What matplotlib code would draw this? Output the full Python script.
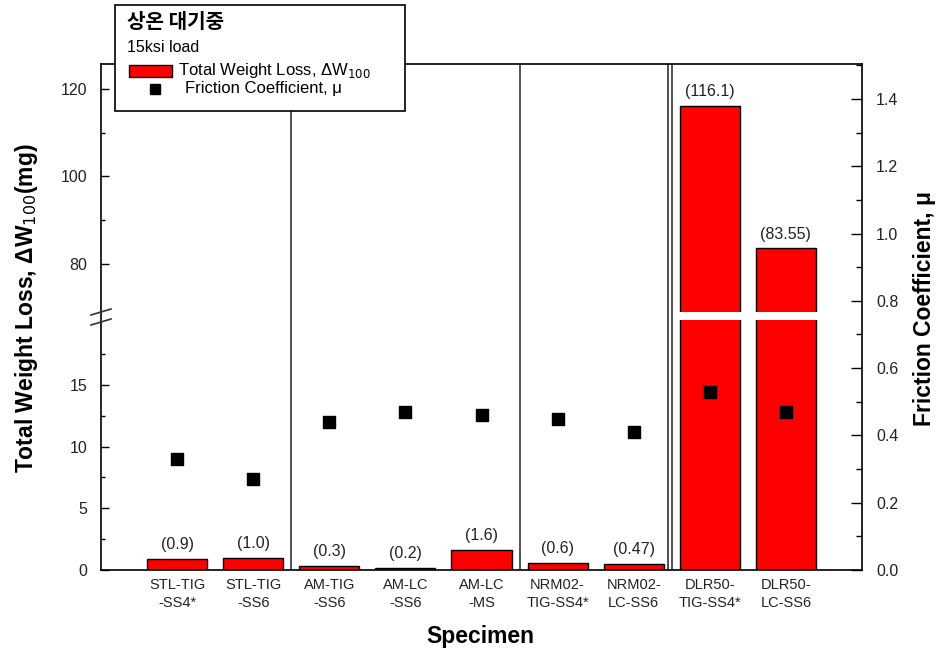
import numpy as np
import matplotlib
matplotlib.use("Agg")
import matplotlib.pyplot as plt
from matplotlib.patches import Rectangle
from matplotlib.lines import Line2D
from matplotlib.ticker import MultipleLocator, FixedLocator

plt.rcParams['font.family'] = ['Liberation Sans', 'DejaVu Sans']

specimens = ["STL-TIG\n-SS4*", "STL-TIG\n-SS6", "AM-TIG\n-SS6", "AM-LC\n-SS6", "AM-LC\n-MS",
             "NRM02-\nTIG-SS4*", "NRM02-\nLC-SS6", "DLR50-\nTIG-SS4*", "DLR50-\nLC-SS6"]
weight_loss = [0.9, 1.0, 0.3, 0.2, 1.6, 0.6, 0.47, 116.1, 83.55]
weight_labels = ["(0.9)", "(1.0)", "(0.3)", "(0.2)", "(1.6)", "(0.6)", "(0.47)", "(116.1)", "(83.55)"]
friction = [0.33, 0.27, 0.44, 0.47, 0.46, 0.45, 0.41, 0.53, 0.47]
group_edges = [2.5, 5.5]

W, H = 939, 655
fig = plt.figure(figsize=(W / 100, H / 100), dpi=100)

def fx(px):
    return px / W

def fy(py):
    return (H - py) / H

x = np.arange(1, len(specimens) + 1)
left, right, top, bottom, brk_lo, brk_hi = 101, 862, 64, 570, 320, 312

# lower and upper parts of the broken weight-loss axis
ax_lo = fig.add_axes([fx(left), fy(bottom), fx(right - left), (bottom - brk_lo) / H])
ax_hi = fig.add_axes([fx(left), fy(brk_hi), fx(right - left), (brk_hi - top) / H])
# full-height axes for the frame and friction coefficient
ax = fig.add_axes([fx(left), fy(bottom), fx(right - left), (bottom - top) / H])

for a in (ax_lo, ax_hi):
    a.bar(x, weight_loss, width=0.79, color='#ff0000', edgecolor='black', linewidth=1.0, zorder=2)
    a.set_xlim(0, 10)
    a.patch.set_visible(False)
    for s in a.spines.values():
        s.set_visible(False)
    a.tick_params(axis='y', direction='in', length=6, width=1, labelsize=11.5, pad=10,
                  labelcolor='#222222')
    a.tick_params(axis='y', which='minor', direction='in', length=3, width=1)
    a.tick_params(axis='x', length=0)
    a.set_xticks([])

ax_lo.set_ylim(0, 20.27)
ax_lo.yaxis.set_major_locator(FixedLocator([0, 5, 10, 15]))
ax_lo.yaxis.set_minor_locator(FixedLocator([2.5, 7.5, 12.5, 17.5]))
ax_hi.set_ylim(69.03, 125.7)
ax_hi.yaxis.set_major_locator(FixedLocator([80, 100, 120]))
ax_hi.yaxis.set_minor_locator(FixedLocator([90, 110]))

# value labels above the bars
for xi, v, lab in zip(x, weight_loss, weight_labels):
    target = ax_lo if v < 20 else ax_hi
    target.annotate(lab, (xi, v), xytext=(0, 5), textcoords='offset points',
                    ha='center', va='bottom', fontsize=11.5, color='#222222')

ax.patch.set_visible(False)
ax.set_xlim(0, 10)
ax.set_ylim(0, 1.504)
ax.scatter(x, friction, marker='s', s=70, color='black', zorder=5)
for xe in group_edges:
    ax.axvline(xe, color='#333333', linewidth=1.2)
ax.axvline(7.455, color='#333333', linewidth=1.2)
ax.axvline(7.5, color='#333333', linewidth=1.2)
for s in ax.spines.values():
    s.set_linewidth(1.2)
ax.yaxis.tick_right()
ax.yaxis.set_major_locator(MultipleLocator(0.2))
ax.yaxis.set_minor_locator(MultipleLocator(0.1))
ax.yaxis.set_major_formatter(matplotlib.ticker.FormatStrFormatter('%.1f'))
ax.tick_params(axis='y', which='major', direction='in', length=8, width=1, labelsize=11.5, pad=10,
               labelcolor='#222222')
ax.tick_params(axis='y', which='minor', direction='in', length=4, width=1)
ax.set_xticks(x)
ax.set_xticklabels(specimens, fontsize=10.5, color='#222222', linespacing=1.35)
ax.tick_params(axis='x', length=0, pad=6)

# break marks on the left spine
for yb in (312, 322):
    fig.add_artist(Line2D([fx(91), fx(111)], [fy(yb + 3), fy(yb - 3)], color='#333333', linewidth=1.2))

fig.text(fx(27), fy(308), "Total Weight Loss, ΔW$_{100}$(mg)", rotation=90, ha='center', va='center',
         fontsize=16.5, fontweight='bold')
fig.text(fx(925), fy(308), "Friction Coefficient, μ", rotation=90, ha='center', va='center',
         fontsize=16.5, fontweight='bold')
fig.text(fx(480), fy(636), "Specimen", ha='center', va='center', fontsize=16.5, fontweight='bold')

# legend box
fig.add_artist(Rectangle((fx(115), fy(111)), fx(405 - 115), (111 - 5) / H, transform=fig.transFigure,
                         facecolor='white', edgecolor='black', linewidth=1.2, zorder=10))
fig.text(fx(127), fy(22), "상온 대기중", family=['Noto Sans CJK KR', 'DejaVu Sans'], fontweight='bold',
         fontsize=14.5, ha='left', va='center', zorder=11)
fig.text(fx(127), fy(47), "15ksi load", fontsize=11.5, ha='left', va='center', zorder=11)
fig.add_artist(Rectangle((fx(129), fy(77)), fx(43), 12 / H, transform=fig.transFigure,
                         facecolor='#ff0000', edgecolor='black', linewidth=1.0, zorder=11))
fig.text(fx(178), fy(71), "Total Weight Loss, ΔW$_{100}$", fontsize=12, ha='left', va='center', zorder=11)
fig.add_artist(Line2D([fx(155)], [fy(89)], marker='s', markersize=7, color='black', linestyle='none', zorder=11))
fig.text(fx(185), fy(89), "Friction Coefficient, μ", fontsize=12, ha='left', va='center', zorder=11)

fig.savefig("out.png", dpi=100)
